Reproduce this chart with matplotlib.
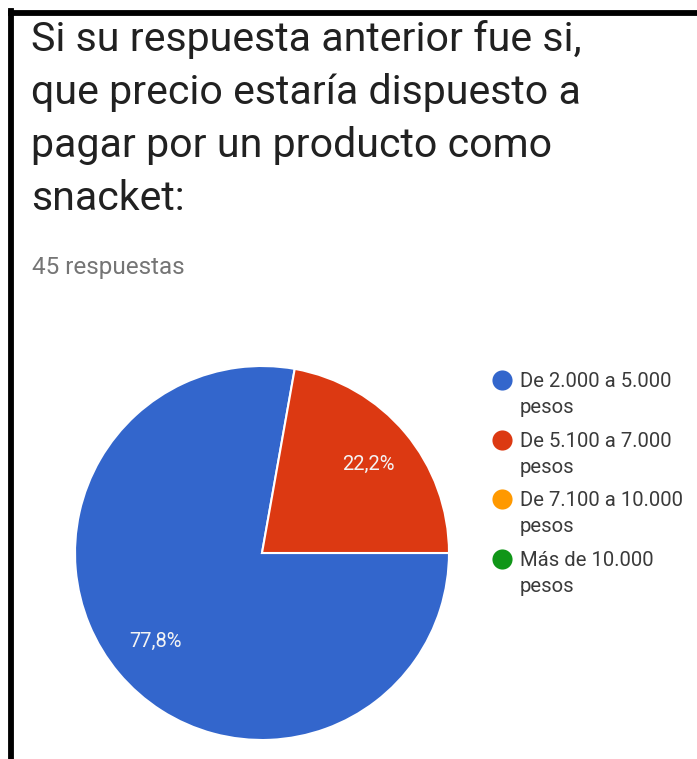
import matplotlib
matplotlib.use("Agg")
import matplotlib.pyplot as plt
from matplotlib.lines import Line2D

# datos de la encuesta
titulo = ["Si su respuesta anterior fue si,", "que precio estaría dispuesto a",
          "pagar por un producto como", "snacket:"]
total_respuestas = 45
categorias = ["De 2.000 a 5.000\npesos", "De 5.100 a 7.000\npesos",
              "De 7.100 a 10.000\npesos", "Más de 10.000\npesos"]
porcentajes = [77.8, 22.2, 0.0, 0.0]
colores = ["#3366cc", "#dc3912", "#ff9900", "#109618"]

plt.rcParams['font.family'] = ['Roboto', 'DejaVu Sans']

W, H = 697, 759
fig = plt.figure(figsize=(W / 100, H / 100), dpi=100)
fig.patch.set_facecolor("white")

# marco negro (arriba e izquierda)
fig.add_artist(Line2D([11 / W, 1.0], [1 - 12.5 / H, 1 - 12.5 / H], color="black", lw=4.2))
fig.add_artist(Line2D([11 / W, 11 / W], [0, 1 - 10.5 / H], color="black", lw=4.2))

# título, una línea por renglón
for i, linea in enumerate(titulo):
    fig.text(31 / W, 1 - (51 + i * 53) / H, linea, fontsize=29.6, color="#212121",
             va="baseline", ha="left")
fig.text(32 / W, 1 - 274 / H, f"{total_respuestas} respuestas", fontsize=17.5,
         color="#757575", va="baseline", ha="left")

# gráfico de torta
cx, cy, r = 262, 553, 187
ax = fig.add_axes([(cx - r) / W, (H - cy - r) / H, 2 * r / W, 2 * r / H])
vals = [v for v in porcentajes if v > 0]
cols = [c for v, c in zip(porcentajes, colores) if v > 0]
wedges, texts, autotexts = ax.pie(
    vals, colors=cols, startangle=0, counterclock=False, radius=1,
    autopct=lambda p: f"{p:.1f}%".replace(".", ","), pctdistance=0.74,
    wedgeprops=dict(edgecolor="white", linewidth=1.5),
    textprops=dict(color="#f4f4f4", fontsize=14.5))
ax.set_xlim(-1, 1)
ax.set_ylim(-1, 1)
ax.set_aspect("equal")
ax.axis("off")

# leyenda
for i, (cat, col) in enumerate(zip(categorias, colores)):
    y = 380 + i * 59.7
    fig.add_artist(Line2D([502 / W], [1 - y / H], marker="o", markersize=14.5,
                          color=col, markeredgewidth=0, linestyle="none"))
    arriba, abajo = cat.split("\n")
    fig.text(520 / W, 1 - (y + 7) / H, arriba, fontsize=14.6, color="#3a3a3a",
             va="baseline", ha="left")
    fig.text(520 / W, 1 - (y + 33) / H, abajo, fontsize=14.6, color="#3a3a3a",
             va="baseline", ha="left")

fig.savefig("out.png", dpi=100)
